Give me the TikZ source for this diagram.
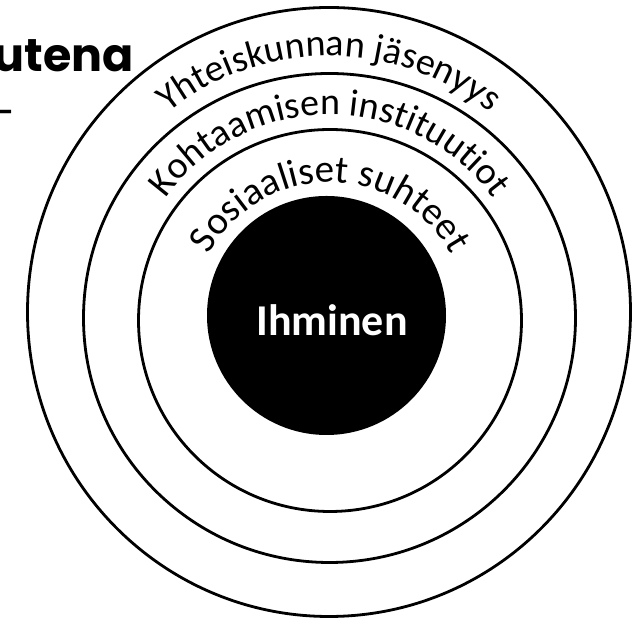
\documentclass[tikz,border=0pt]{standalone}
\usepackage{fontspec}
\setmainfont{Carlito}
\newfontfamily\titlefont{Poppins}
\usetikzlibrary{decorations.text}
\newcommand\ringfont{\fontsize{38}{42}\selectfont}
\newcommand\innerringfont{\fontsize{39}{42}\selectfont}
\tikzset{
  ring/.style={draw=black, line width=2.8pt},
  ringtext/.style={decorate, decoration={text along path, text align=center, text={#1}}}
}
\begin{document}
\begin{tikzpicture}[x=1pt,y=1pt]
\useasboundingbox (0,0) rectangle (641,620);
% rings
\draw[ring] (329,308) ellipse [x radius=301.5, y radius=304.5];
\draw[ring] (329.5,302) ellipse [x radius=246, y radius=244.5];
\draw[ring] (330,299.5) ellipse [x radius=191.5, y radius=191];
\node[circle, fill=black, minimum size=239pt, inner sep=0pt] (core) at (326.5,304.5) {};
\node[text=white, font=\fontsize{44}{46}\selectfont\bfseries] (label) at (332,300) {Ihminen};
% ring texts
\path[ringtext={|\ringfont|Yhteiskunnan jäsenyys}] (329,308) ++(180:256) arc[start angle=180, end angle=0, radius=256];
\path[ringtext={|\ringfont|Kohtaamisen instituutiot}] (329.5,302) ++(180:203) arc[start angle=180, end angle=0, radius=203];
\path[ringtext={|\innerringfont|Sosiaaliset suhteet}] (330,299.5) ++(180:138) arc[start angle=180, end angle=0, radius=138];
% title fragments
\node[anchor=base east, inner sep=0pt, font=\titlefont\bfseries\fontsize{46}{50}\selectfont] (title) at (134,548) {utena};
\node[anchor=east, inner sep=0pt, font=\titlefont\fontsize{45}{50}\selectfont] (dash) at (15,501) {–};
\end{tikzpicture}
\end{document}
